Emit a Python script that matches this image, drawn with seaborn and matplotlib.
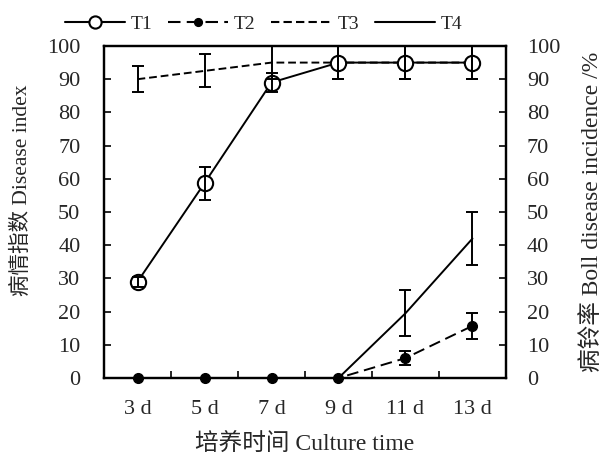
import matplotlib
matplotlib.use('Agg')
import matplotlib.pyplot as plt
import pandas as pd
import seaborn as sns
from matplotlib.lines import Line2D
from matplotlib.ticker import FixedLocator

days = ['3 d', '5 d', '7 d', '9 d', '11 d', '13 d']
t1 = [29, 58.7, 89, 95, 95, 95]
t1_err = [1.5, 5, 3, 5, 5, 5]
t2 = [0, 0, 0, 0, 6, 15.7]
t2_err = [0, 0, 0, 0, 2, 4]
t3 = [90, 92.5, 95, 95, 95, 95]
t3_err = [4, 5, 5, 5, 5, 5]
t4 = [0, 0, 0, 0, 19.5, 42]
t4_err = [0, 0, 0, 0, 7, 8]

sns.set_theme(style='ticks')
plt.rcParams['font.family'] = ['Liberation Serif', 'Noto Sans CJK SC']
plt.rcParams['axes.edgecolor'] = 'black'
plt.rcParams['axes.linewidth'] = 1.6

fig = plt.figure(figsize=(6.13, 4.54), dpi=100)
ax = fig.add_axes([0.1697, 0.1674, 0.6557, 0.7313])

x = list(range(len(days)))
df = pd.DataFrame({'x': x * 4,
                   'y': t1 + t2 + t3 + t4,
                   'g': ['T1'] * 6 + ['T2'] * 6 + ['T3'] * 6 + ['T4'] * 6})

styles = {
    'T1': dict(ls='-', marker='o', mfc='white', ms=11, mew=1.5),
    'T2': dict(ls=(0, (6, 3)), marker='o', mfc='black', ms=7, mew=1),
    'T3': dict(ls=(0, (4, 2)), marker=None),
    'T4': dict(ls='-', marker=None),
}
errs = {'T1': t1_err, 'T2': t2_err, 'T3': t3_err, 'T4': t4_err}

for name in ['T3', 'T4', 'T2', 'T1']:
    sub = df[df['g'] == name]
    st = styles[name]
    sns.lineplot(data=sub, x='x', y='y', ax=ax, color='black', lw=1.4,
                 linestyle=st['ls'], marker=st['marker'],
                 markerfacecolor=st.get('mfc', 'black'), markeredgecolor='black',
                 markersize=st.get('ms', 0), markeredgewidth=st.get('mew', 1),
                 clip_on=False, zorder=3)
    e = errs[name]
    idx = [i for i in range(6) if e[i] > 0]
    ax.errorbar([x[i] for i in idx], [sub['y'].values[i] for i in idx],
                yerr=[e[i] for i in idx], fmt='none', ecolor='black',
                elinewidth=1.4, capsize=4, capthick=1.4, clip_on=False, zorder=4)

handles = []
for name in ['T1', 'T2', 'T3', 'T4']:
    st = styles[name]
    handles.append(Line2D([], [], color='black', lw=1.5, linestyle=st['ls'],
                          marker=st['marker'], markerfacecolor=st.get('mfc', 'black'),
                          markeredgecolor='black', markersize=st.get('ms', 0) * 0.8,
                          markeredgewidth=st.get('mew', 1)))
fig.legend(handles, ['T1', 'T2', 'T3', 'T4'], loc='upper center', ncol=4,
           bbox_to_anchor=(0.43, 1.005), frameon=False, fontsize=14,
           handlelength=3.1, handletextpad=0.3, columnspacing=0.8)

ax.set_xlim(-0.5, 5.5)
ax.set_ylim(0, 100)
ax.set_xticks(x)
ax.set_xticklabels(days)
ax.xaxis.set_minor_locator(FixedLocator([0.5, 1.5, 2.5, 3.5, 4.5]))
ax.tick_params(axis='x', which='major', length=0, pad=16, labelsize=16)
ax.tick_params(axis='x', which='minor', direction='in', length=5, width=1.4)
ax.set_yticks(range(0, 101, 10))
ax.tick_params(axis='y', direction='in', length=5, width=1.4, labelsize=16, pad=17)
ax.set_xlabel('培养时间 Culture time', fontsize=17, labelpad=10)
ax.set_ylabel('病情指数 Disease index', fontsize=15.5)
ax.yaxis.set_label_coords(-0.18, 0.566)

ax2 = ax.twinx()
ax2.set_ylim(0, 100)
ax2.set_yticks(range(0, 101, 10))
ax2.tick_params(axis='y', direction='in', length=5, width=1.4, labelsize=16, pad=15)
ax2.set_ylabel('病铃率 Boll disease incidence /%', fontsize=17, labelpad=15)
for s in ax2.spines.values():
    s.set_linewidth(1.6)

fig.savefig('out.png', dpi=100)
